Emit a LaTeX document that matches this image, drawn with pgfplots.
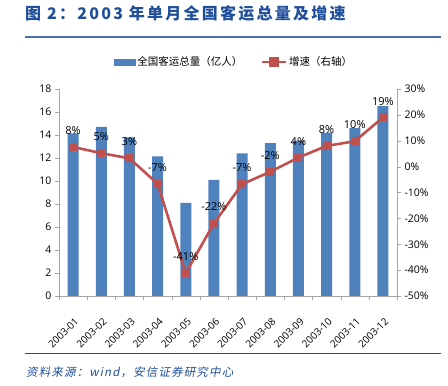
\documentclass[border=0pt]{standalone}
\usepackage{fontspec}
\usepackage{pgfplots}
\pgfplotsset{compat=1.18}
\setmainfont{Open Sans}
\newfontfamily\cjk{Noto Sans CJK SC}
\newfontfamily\cjktitle[LetterSpace=14]{Noto Sans CJK SC}
\newfontfamily\cjkit[FakeSlant=0.2, LetterSpace=10]{Noto Sans CJK SC}
\definecolor{barblue}{HTML}{4F81BD}
\definecolor{linered}{HTML}{C0504D}
\definecolor{titleblue}{HTML}{1F4E9A}
\definecolor{ruleblue}{HTML}{4A6BB0}
\definecolor{axisgray}{HTML}{A6A6A6}
\begin{document}
\begin{tikzpicture}[x=1pt,y=1pt]
\path[use as bounding box] (0,0) rectangle (448,386);
\node[anchor=west, font=\cjktitle\bfseries\fontsize{16}{17}\selectfont, text=titleblue, inner sep=0] at (25,373) {图 2：2003 年单月全国客运总量及增速};
\draw[color=ruleblue, line width=1.5pt] (25,349) -- (441,349);
\draw[color=titleblue, line width=0.8pt] (25,33) -- (441,33);
\node[anchor=west, font=\cjkit\fontsize{11.5}{12}\selectfont, text=titleblue, inner sep=0] at (26,14) {资料来源：wind，安信证券研究中心};

\begin{axis}[
  at={(59pt,90pt)}, anchor=south west,
  width=338pt, height=207pt, scale only axis,
  xmin=-0.5, xmax=11.5, ymin=0, ymax=18,
  ytick={0,2,...,18},
  axis x line*=bottom, axis y line*=left,
  axis line style={draw=axisgray,-},
  tick style={draw=axisgray},
  tick align=outside, major tick length=4pt,
  xtick={-0.5,0.5,...,11.5}, xticklabels={},
  extra x ticks={0,1,...,11},
  extra x tick labels={2003-01,2003-02,2003-03,2003-04,2003-05,2003-06,2003-07,2003-08,2003-09,2003-10,2003-11,2003-12},
  extra x tick style={major tick length=0pt, tick label style={xshift=1pt, yshift=-16pt, rotate=45, anchor=north east, font=\fontsize{10}{11}\selectfont}},
  y tick label style={font=\fontsize{10.5}{12}\selectfont},
  /pgf/number format/assume math mode=true,
  ybar, bar width=11pt,
]
\addplot[fill=barblue, draw=none] coordinates {
(0,14.15) (1,14.7) (2,13.8) (3,12.15) (4,8.09) (5,10.1)
(6,12.4) (7,13.3) (8,13.5) (9,14.2) (10,14.6) (11,16.5)};
\end{axis}

\begin{axis}[
  at={(59pt,90pt)}, anchor=south west,
  width=338pt, height=207pt, scale only axis,
  xmin=-0.5, xmax=11.5, ymin=-50, ymax=30,
  axis y line*=right, axis x line=none,
  axis line style={draw=axisgray,-},
  tick style={draw=axisgray},
  tick align=outside, major tick length=4pt,
  ytick={-50,-40,...,30},
  yticklabels={-50\%,-40\%,-30\%,-20\%,-10\%,0\%,10\%,20\%,30\%},
  y tick label style={font=\fontsize{10.5}{12}\selectfont},
  legend style={at={(0.518,1.13)}, anchor=center, draw=none, fill=none,
    legend columns=2, font=\cjk\fontsize{10.5}{12}\selectfont,
    /tikz/every even column/.append style={column sep=16pt}},
]
\addlegendimage{legend image code/.code={\fill[barblue] (0pt,-3pt) rectangle (21pt,3pt);}}
\addlegendentry{全国客运总量（亿人）}
\addplot[linered, line width=2.6pt, mark=square*, mark size=3.5pt, mark options={fill=linered, line width=0pt},
  legend image code/.code={\draw[linered, line width=2.6pt] (0pt,0pt) -- (24pt,0pt); \fill[linered] (8.5pt,-3.5pt) rectangle (15.5pt,3.5pt);},
  nodes near coords, point meta=explicit symbolic,
  nodes near coords style={font=\fontsize{11}{12}\selectfont, text=black, anchor=south, yshift=9pt}]
coordinates {
(0,7.6) [8\%]
(1,5.2) [5\%]
(2,3.2) [3\%]
(3,-6.6) [-7\%]
(4,-41.2) [-41\%]
(5,-21.9) [-22\%]
(6,-6.8) [-7\%]
(7,-2.0) [-2\%]
(8,3.5) [4\%]
(9,8.0) [8\%]
(10,9.8) [10\%]
(11,19.0) [19\%]
};
\addlegendentry{增速（右轴）}
\end{axis}
\end{tikzpicture}
\end{document}
